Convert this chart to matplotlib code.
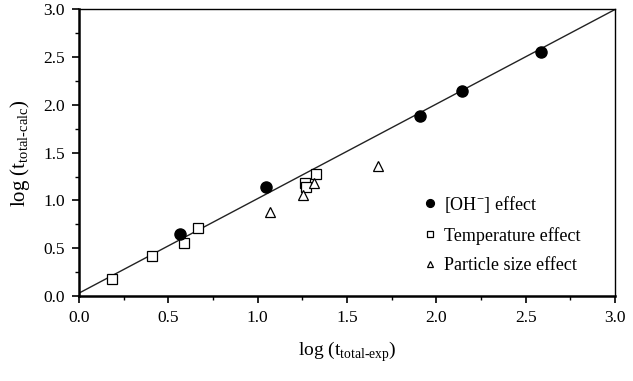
import matplotlib
matplotlib.use('Agg')
import matplotlib.pyplot as plt
from matplotlib.ticker import MultipleLocator

plt.rcParams['font.family'] = ['Liberation Serif', 'DejaVu Serif']
plt.rcParams['mathtext.fontset'] = 'custom'
plt.rcParams['mathtext.rm'] = 'Liberation Serif'

# [OH-] effect
oh_x = [0.565, 1.047, 1.91, 2.145, 2.584]
oh_y = [0.65, 1.14, 1.885, 2.146, 2.554]

# Temperature effect
temp_x = [0.186, 0.41, 0.586, 0.668, 1.265, 1.27, 1.326]
temp_y = [0.174, 0.415, 0.557, 0.707, 1.18, 1.14, 1.275]

# Particle size effect
ps_x = [1.069, 1.252, 1.317, 1.672]
ps_y = [0.881, 1.056, 1.188, 1.362]

# fit line
fit_x = [0.0, 3.0]
fit_y = [0.03, 3.0]

fig = plt.figure(figsize=(6.33, 3.81), dpi=100)
ax = fig.add_axes([0.1248, 0.2231, 0.8468, 0.752])

ax.plot(fit_x, fit_y, color='#222222', lw=1.0, zorder=1)
ax.plot(oh_x, oh_y, 'o', color='black', ms=8, label='[OH$^{-}$] effect', zorder=3)
ax.plot(temp_x, temp_y, 's', mfc='white', mec='black', mew=0.9, ms=6.5,
        label='Temperature effect', zorder=2)
ax.plot(ps_x, ps_y, '^', mfc='white', mec='black', mew=0.9, ms=7,
        label='Particle size effect', zorder=2)

ax.set_xlim(0, 3)
ax.set_ylim(0, 3)
ax.xaxis.set_major_locator(MultipleLocator(0.5))
ax.yaxis.set_major_locator(MultipleLocator(0.5))
ax.xaxis.set_minor_locator(MultipleLocator(0.25))
ax.yaxis.set_minor_locator(MultipleLocator(0.25))
ax.xaxis.set_major_formatter(plt.FormatStrFormatter('%.1f'))
ax.yaxis.set_major_formatter(plt.FormatStrFormatter('%.1f'))
ax.tick_params(which='major', direction='out', length=5, width=1.2, labelsize=12.5, pad=5)
ax.tick_params(which='minor', direction='out', length=3, width=1.0)
for s in ax.spines.values():
    s.set_linewidth(1.0)
ax.spines['left'].set_linewidth(1.8)
ax.spines['bottom'].set_linewidth(1.8)

ax.set_xlabel('log (t$_{\\mathrm{total\\text{-}exp}}$)', fontsize=14, labelpad=10)
ax.set_ylabel('log (t$_{\\mathrm{total\\text{-}calc}}$)', fontsize=15, labelpad=8)

leg = ax.legend(loc='lower right', bbox_to_anchor=(0.966, 0.02), frameon=False,
                fontsize=13, handletextpad=0.3, labelspacing=0.68,
                markerscale=0.7, handlelength=1.0)

fig.savefig('out.png', dpi=100)
